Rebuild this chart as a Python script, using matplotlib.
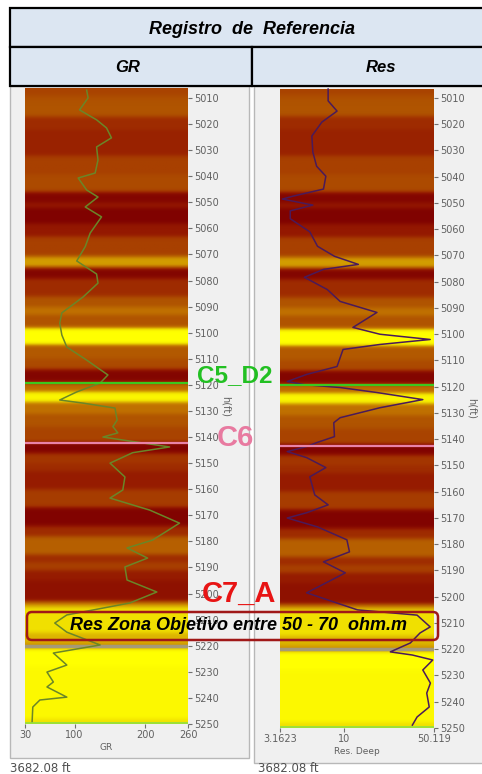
import numpy as np
import matplotlib
matplotlib.use('Agg')
import matplotlib.pyplot as plt
from matplotlib.colors import LinearSegmentedColormap
from matplotlib.patches import Rectangle, FancyBboxPatch

W, H = 482, 774

# Facies/colour bands (top depth in ft, colour level 0 = maroon .. 1 = yellow)
band_top = [5006, 5009, 5011, 5017, 5022, 5032, 5039, 5046, 5050, 5052, 5058,
            5063, 5070.5, 5075, 5079, 5086, 5090, 5093, 5098, 5104.5, 5110, 5114,
            5119, 5122.5, 5126.5, 5131, 5136, 5142, 5146, 5150, 5153, 5160, 5167,
            5174, 5178, 5185, 5188, 5191, 5195, 5203, 5205, 5215, 5219, 5221,
            5228, 5248]
band_level = [0.42, 0.48, 0.50, 0.30, 0.25, 0.40, 0.45, 0.05, 0.20, 0.02, 0.20,
              0.40, 0.74, 0.05, 0.30, 0.50, 0.62, 0.50, 1.00, 0.52, 0.45, 0.05,
              0.60, 0.97, 0.62, 0.50, 0.42, 0.03, 0.35, 0.30, 0.22, 0.38, 0.03,
              0.30, 0.55, 0.30, 0.40, 0.22, 0.15, 0.70, 0.90, 0.80, 0.70, 1.00,
              0.98, 0.90]

# GR curve (depth ft, API)
gr_depth = [5007, 5010, 5014.6, 5018.4, 5021.5, 5025.3, 5028.8, 5033.8, 5038.8,
            5040.7, 5045.3, 5048, 5051.8, 5055.6, 5061.8, 5067, 5072.5, 5077.5,
            5081, 5086.3, 5092.4, 5096.3, 5100.9, 5105.5, 5110.5, 5116.2, 5119.3,
            5122.7, 5125.8, 5127, 5128.9, 5133.5, 5136, 5138.4, 5140, 5143.8,
            5146, 5150, 5155.3, 5160.3, 5163.4, 5168, 5173, 5179.5, 5182.5,
            5186.4, 5189.8, 5194.8, 5199.4, 5203.6, 5208.2, 5211.3, 5214.8,
            5219.7, 5222.8, 5227.4, 5230.1, 5233.9, 5235.8, 5239.7, 5240.8,
            5243.5, 5249.3]
gr_value = [117, 119, 107, 131, 145, 152, 131, 133, 129, 105, 117, 133, 115, 138,
            122, 115, 103, 131, 133, 112, 82, 79, 82, 89, 117, 147, 136, 103, 79,
            112, 157, 160, 154, 161, 140, 234, 182, 150, 171, 168, 150, 206, 248,
            210, 174, 203, 171, 174, 216, 178, 89, 72, 89, 136, 70, 89, 61, 70,
            61, 89, 51, 41, 40]

# Deep resistivity curve (depth ft, ohm.m)
res_depth = [5006.6, 5011.1, 5015, 5019.2, 5024.5, 5030.6, 5036, 5039.8, 5044.7,
             5047.4, 5048.5, 5050.8, 5053, 5056, 5061, 5066.5, 5070.3, 5073.4,
             5075.3, 5078.3, 5083, 5087.5, 5091.7, 5097.4, 5100, 5102, 5103.9,
             5105.8, 5112.3, 5115.3, 5118, 5119.2, 5120.3, 5122.2, 5124.9, 5128,
             5131.8, 5133.7, 5139, 5141.3, 5142.8, 5144.7, 5147, 5150.8, 5154.3,
             5161.2, 5165, 5168, 5170, 5173.4, 5178.3, 5182.9, 5186.7, 5190.9,
             5193.6, 5198.5, 5202.4, 5205, 5207, 5211.5, 5213.8, 5217.6, 5221,
             5222.2, 5224.1, 5227.9, 5232.9, 5236.7, 5242, 5245.8, 5248.9]
res_value = [7.5, 7.5, 8.8, 6.7, 5.6, 5.7, 6.1, 7.2, 6.9, 4.0, 3.3, 5.7, 3.8, 3.8,
             5.4, 6.2, 8.4, 12.9, 6.9, 4.9, 7.4, 9.3, 18, 11.7, 19, 46.8, 19, 9.8,
             8.8, 5.1, 3.6, 4.9, 9.3, 18, 41, 19, 9.3, 8.3, 8.4, 6.1, 5.1, 3.6,
             5.1, 7.2, 5.4, 5.9, 7.5, 5.1, 3.6, 6.2, 10.5, 11, 6.9, 10.2, 8.0, 5.1,
             8.8, 12.7, 37, 46.8, 39, 32.8, 22.9, 34, 49, 41, 47, 44, 46, 37, 34]

# Formation tops
tops = {'C5_D2': 5119.3, 'C6': 5142.4}
depth_min, depth_max = 5006.2, 5250

cmap = LinearSegmentedColormap.from_list('facies', [
    (0.0, '#7e0000'), (0.2, '#941800'), (0.35, '#a43600'), (0.5, '#b05400'),
    (0.65, '#c47800'), (0.8, '#dcb400'), (0.9, '#f0e000'), (1.0, '#ffff00')])

# build a 0.25 ft image column from the bands, softened a little like the log image
grid = np.arange(depth_min, depth_max, 0.25)
idx = np.searchsorted(band_top, grid, side='right') - 1
col = np.array(band_level)[np.clip(idx, 0, None)]
k = np.exp(-0.5 * (np.arange(-8, 9) / 3.0) ** 2)
col = np.convolve(np.pad(col, 8, mode='edge'), k / k.sum(), mode='valid')
img = col.reshape(-1, 1)

fig = plt.figure(figsize=(W / 100, H / 100), dpi=100, facecolor='white')

# background: header and panel frames in pixel coordinates
bg = fig.add_axes([0, 0, 1, 1], zorder=-1)
bg.set_xlim(0, W)
bg.set_ylim(H, 0)
bg.axis('off')
bg.add_patch(Rectangle((10, 86), 239, 672, fc='#f0f0f0', ec='#b8b8b8', lw=1))
bg.add_patch(Rectangle((254, 86), 240, 677, fc='#f0f0f0', ec='#b8b8b8', lw=1))
bg.add_patch(Rectangle((10, 8), 480, 39, fc='#dce6f2', ec='black', lw=1.6))
bg.add_patch(Rectangle((10, 47), 242, 39, fc='#dce6f2', ec='black', lw=1.6))
bg.add_patch(Rectangle((252, 47), 240, 39, fc='#dce6f2', ec='black', lw=1.6))
hfont = dict(family='Liberation Sans', weight='bold', style='italic')
bg.text(252, 29, 'Registro  de  Referencia', ha='center', va='center', fontsize=13, **hfont)
bg.text(128, 67, 'GR', ha='center', va='center', fontsize=12, **hfont)
bg.text(381, 67, 'Res', ha='center', va='center', fontsize=12, **hfont)
bg.text(10, 769, '3682.08 ft', ha='left', va='center', fontsize=8.5, color='#505050')
bg.text(258, 769, '3682.08 ft', ha='left', va='center', fontsize=8.5, color='#505050')

ax_gr = fig.add_axes([25 / W, 1 - 724 / H, 163 / W, 636 / H], zorder=2)
ax_res = fig.add_axes([280 / W, 1 - 728 / H, 154 / W, 640 / H], zorder=1)

for ax in (ax_gr, ax_res):
    ax.set_facecolor('none')
    for s in ax.spines.values():
        s.set_visible(False)
    ax.set_ylim(depth_max, depth_min)
    ax.yaxis.tick_right()
    ax.yaxis.set_label_position('right')
    ax.set_yticks(np.arange(5010, 5251, 10))
    ax.tick_params(axis='both', colors='#707070', labelcolor='#606060',
                   labelsize=7, length=3, width=0.8, pad=1.5)
    ax.set_ylabel('h(ft)', rotation=270, fontsize=7, color='#606060', labelpad=8)

# GR track
ax_gr.imshow(img, aspect='auto', cmap=cmap, vmin=0, vmax=1, interpolation='bilinear',
             extent=[30, 260, depth_max, depth_min], zorder=0)
ax_gr.plot(gr_value, gr_depth, color='#6a8628', lw=1.1, zorder=3)
ax_gr.set_xlim(30, 260)
ax_gr.set_xticks([30, 100, 200, 260])
ax_gr.set_xlabel('GR', fontsize=6.5, color='#606060', labelpad=2)

# Res track
ax_res.imshow(img, aspect='auto', cmap=cmap, vmin=0, vmax=1, interpolation='bilinear',
              extent=[3.1623, 50.119, depth_max, depth_min], zorder=0)
ax_res.plot(res_value, res_depth, color='#4a1a5a', lw=1.1, zorder=3)
ax_res.set_xscale('log')
ax_res.set_xlim(3.1623, 50.119)
ax_res.set_xticks([3.1623, 10, 50.119])
ax_res.set_xticklabels(['3.1623', '10', '50.119'])
ax_res.minorticks_off()
ax_res.set_xlabel('Res. Deep', fontsize=6.5, color='#606060', labelpad=2)

for ax in (ax_gr, ax_res):
    ax.axhline(tops['C5_D2'], color='#3cc81e', lw=1.6, zorder=4)
    ax.axhline(tops['C6'], color='#e882a8', lw=1.6, zorder=4)
    ax.axhline(5220, color='#a09a86', lw=2.5, alpha=0.9, zorder=2)
    ax.axhline(5249.6, color='#8ee040', lw=1.2, zorder=4)

lab = dict(family='Liberation Sans', weight='bold', clip_on=False, va='baseline', zorder=6)
tr = ax_gr.get_yaxis_transform()
ax_gr.text(1.055, tops['C5_D2'] - 0.3, 'C5_D2', transform=tr, color='#22c022',
           fontsize=17.5, **lab)
ax_gr.text(1.178, tops['C6'] + 1.0, 'C6', transform=tr, color='#e87aa0',
           fontsize=21, **lab)
ax_gr.text(1.086, 5203.2, 'C7_A', transform=tr, color='#e81414',
           fontsize=21, **lab)

# target zone box on top
ov = fig.add_axes([0, 0, 1, 1], zorder=5)
ov.set_xlim(0, W)
ov.set_ylim(H, 0)
ov.axis('off')
ov.patch.set_alpha(0)
ov.add_patch(FancyBboxPatch((29, 614), 407, 24, boxstyle='round,pad=2,rounding_size=5',
                            fc='none', ec='#a01818', lw=1.8))
ov.text(238, 626, 'Res Zona Objetivo entre 50 - 70  ohm.m', ha='center', va='center',
        family='Liberation Sans', weight='bold', style='italic', fontsize=13)

fig.savefig('out.png', dpi=100, facecolor='white')
